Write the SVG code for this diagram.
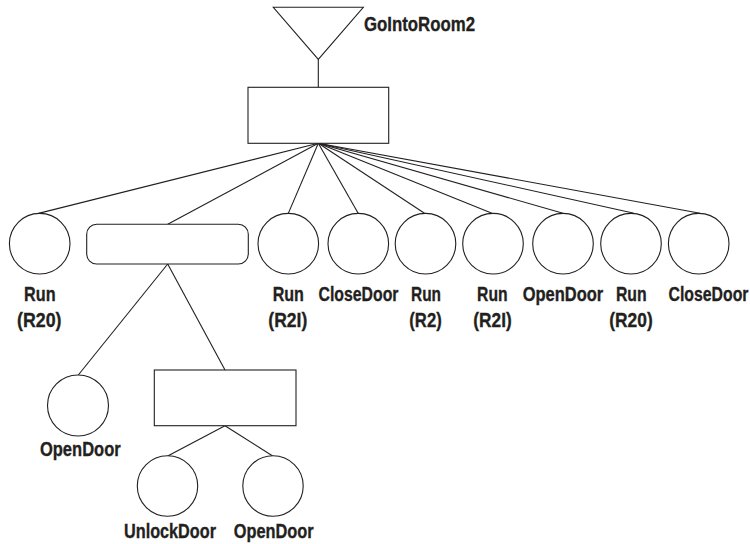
<svg xmlns="http://www.w3.org/2000/svg" width="750" height="544" viewBox="0 0 750 544">
  <style>
    .shape { fill: #ffffff; stroke: #231f20; stroke-width: 1.1; }
    .edge { fill: none; stroke: #231f20; stroke-width: 1.1; }
    .lbl { font-family: "Liberation Sans Narrow", "Liberation Sans", Arial, sans-serif; font-weight: bold; font-size: 20.5px; fill: #231f20; stroke: #231f20; stroke-width: 0.35; text-anchor: middle; }
    .title { text-anchor: start; }
  </style>
  <rect x="0" y="0" width="750" height="544" fill="#ffffff"/>

  <!-- connectors -->
  <g id="connectors" class="edge">
    <line x1="318.3" y1="59.3" x2="318.3" y2="87.3"/>
    <line x1="318.3" y1="143.3" x2="38.5" y2="213.4"/>
    <line x1="318.3" y1="143.3" x2="167.7" y2="224.3"/>
    <line x1="318.3" y1="143.3" x2="288.3" y2="213.4"/>
    <line x1="318.3" y1="143.3" x2="358.3" y2="213.4"/>
    <line x1="318.3" y1="143.3" x2="424.5" y2="213.2"/>
    <line x1="318.3" y1="143.3" x2="492" y2="213.2"/>
    <line x1="318.3" y1="143.3" x2="563" y2="213.2"/>
    <line x1="318.3" y1="143.3" x2="634" y2="213.2"/>
    <line x1="318.3" y1="143.3" x2="700" y2="213.2"/>
    <line x1="167.7" y1="264" x2="78.3" y2="375"/>
    <line x1="167.7" y1="264" x2="225" y2="370"/>
    <line x1="225" y1="425.7" x2="167.7" y2="456"/>
    <line x1="225" y1="425.7" x2="272.7" y2="456"/>
  </g>

  <!-- root goal -->
  <g id="goal">
    <polygon class="shape" points="273.3,7.3 363.3,7.3 318.3,59.3"/>
    <text class="lbl title" x="364" y="30.5" textLength="111" lengthAdjust="spacingAndGlyphs">GoIntoRoom2</text>
  </g>

  <!-- top sequence -->
  <g id="seq-main">
    <rect class="shape" x="248" y="87.3" width="140.7" height="56"/>
  </g>

  <g id="run-r20-a">
    <circle class="shape" cx="39.7" cy="243.7" r="30.3"/>
    <text class="lbl" x="39.8" y="301" textLength="31.5" lengthAdjust="spacingAndGlyphs">Run</text>
    <text class="lbl" x="39.3" y="326.5" textLength="44.5" lengthAdjust="spacingAndGlyphs">(R20)</text>
  </g>

  <g id="selector">
    <rect class="shape" x="86.7" y="224.3" width="161.6" height="39.7" rx="10" ry="10"/>
  </g>

  <g id="run-r2i-a">
    <circle class="shape" cx="288.3" cy="243.7" r="30.3"/>
    <text class="lbl" x="288.3" y="301" textLength="31.3" lengthAdjust="spacingAndGlyphs">Run</text>
    <text class="lbl" x="287.8" y="326.5" textLength="39" lengthAdjust="spacingAndGlyphs">(R2I)</text>
  </g>

  <g id="closedoor-a">
    <circle class="shape" cx="358.3" cy="243.7" r="30.3"/>
    <text class="lbl" x="358.5" y="301" textLength="80" lengthAdjust="spacingAndGlyphs">CloseDoor</text>
  </g>

  <g id="run-r2">
    <circle class="shape" cx="425.5" cy="243.7" r="30.3"/>
    <text class="lbl" x="426" y="301" textLength="30" lengthAdjust="spacingAndGlyphs">Run</text>
    <text class="lbl" x="425.5" y="326.5" textLength="32.4" lengthAdjust="spacingAndGlyphs">(R2)</text>
  </g>

  <g id="run-r2i-b">
    <circle class="shape" cx="493" cy="243.7" r="30.3"/>
    <text class="lbl" x="492.3" y="301" textLength="30.5" lengthAdjust="spacingAndGlyphs">Run</text>
    <text class="lbl" x="492.5" y="326.5" textLength="38.4" lengthAdjust="spacingAndGlyphs">(R2I)</text>
  </g>

  <g id="opendoor-a">
    <circle class="shape" cx="563" cy="243.7" r="30.3"/>
    <text class="lbl" x="563" y="301" textLength="80.6" lengthAdjust="spacingAndGlyphs">OpenDoor</text>
  </g>

  <g id="run-r20-b">
    <circle class="shape" cx="631" cy="243.7" r="30.3"/>
    <text class="lbl" x="631.3" y="301" textLength="30.7" lengthAdjust="spacingAndGlyphs">Run</text>
    <text class="lbl" x="631" y="326.5" textLength="43.4" lengthAdjust="spacingAndGlyphs">(R20)</text>
  </g>

  <g id="closedoor-b">
    <circle class="shape" cx="698.7" cy="243.7" r="30.3"/>
    <text class="lbl" x="708.5" y="301" textLength="80" lengthAdjust="spacingAndGlyphs">CloseDoor</text>
  </g>

  <!-- selector children -->
  <g id="opendoor-b">
    <circle class="shape" cx="78" cy="405.5" r="30.5"/>
    <text class="lbl" x="80.3" y="456" textLength="80.7" lengthAdjust="spacingAndGlyphs">OpenDoor</text>
  </g>

  <g id="seq-unlock">
    <rect class="shape" x="154.3" y="370" width="141.7" height="55.7"/>
  </g>

  <g id="unlockdoor">
    <circle class="shape" cx="167.5" cy="486" r="30.2"/>
    <text class="lbl" x="170" y="537.5" textLength="92" lengthAdjust="spacingAndGlyphs">UnlockDoor</text>
  </g>

  <g id="opendoor-c">
    <circle class="shape" cx="273" cy="486" r="30.2"/>
    <text class="lbl" x="273.7" y="537.5" textLength="80" lengthAdjust="spacingAndGlyphs">OpenDoor</text>
  </g>
</svg>
